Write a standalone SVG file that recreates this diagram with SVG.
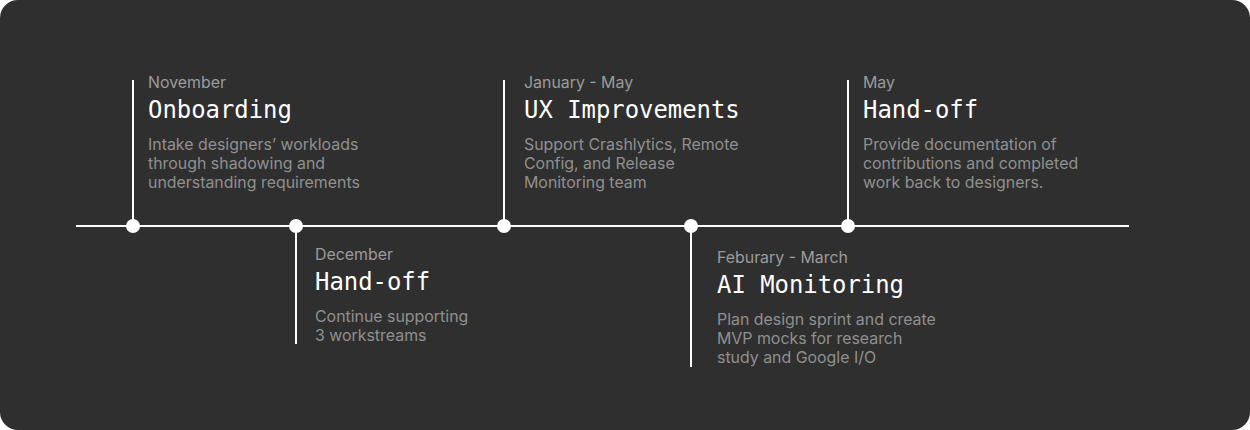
<svg xmlns="http://www.w3.org/2000/svg" width="1250" height="430" viewBox="0 0 1250 430">
<style>
.date{font-family:Inter,"Noto Sans",sans-serif;font-size:15.9px;fill:#9b9b9b}
.title{font-family:"DejaVu Sans Mono","Liberation Mono",monospace;font-size:23.9px;fill:#ffffff}
.body{font-family:Inter,"Noto Sans",sans-serif;font-size:15.9px;fill:#8f8f8f}
.ln{stroke:#ffffff;stroke-width:2;fill:none}
.dot{fill:#ffffff}
</style>
<rect x="0" y="0" width="1250" height="430" fill="#ffffff"/>
<rect x="0" y="0" width="1250" height="430" rx="18" fill="#2f2f2f"/>
<g id="connectors">
<line class="ln" x1="76" y1="226" x2="1129" y2="226"/>
<line class="ln" x1="133" y1="80" x2="133" y2="226"/>
<line class="ln" x1="296" y1="226" x2="296" y2="344"/>
<line class="ln" x1="504" y1="80" x2="504" y2="226"/>
<line class="ln" x1="691" y1="226" x2="691" y2="367"/>
<line class="ln" x1="848" y1="80" x2="848" y2="226"/>
</g>
<g id="node-onboarding">
<circle class="dot" cx="133" cy="226" r="7"/>
<text class="date" x="148" y="88">November</text>
<text class="title" x="148" y="118">Onboarding</text>
<text class="body" x="148" y="150">Intake designers’ workloads</text>
<text class="body" x="148" y="169">through shadowing and</text>
<text class="body" x="148" y="188">understanding requirements</text>
</g>
<g id="node-handoff-dec">
<circle class="dot" cx="296" cy="226" r="7"/>
<text class="date" x="315" y="260">December</text>
<text class="title" x="315" y="290">Hand-off</text>
<text class="body" x="315" y="322">Continue supporting</text>
<text class="body" x="315" y="341">3 workstreams</text>
</g>
<g id="node-ux">
<circle class="dot" cx="504" cy="226" r="7"/>
<text class="date" x="524" y="88">January - May</text>
<text class="title" x="524" y="118">UX Improvements</text>
<text class="body" x="524" y="150">Support Crashlytics, Remote</text>
<text class="body" x="524" y="169">Config, and Release</text>
<text class="body" x="524" y="188">Monitoring team</text>
</g>
<g id="node-ai">
<circle class="dot" cx="691" cy="226" r="7"/>
<text class="date" x="717" y="263">Feburary - March</text>
<text class="title" x="717" y="293">AI Monitoring</text>
<text class="body" x="717" y="325">Plan design sprint and create</text>
<text class="body" x="717" y="344">MVP mocks for research</text>
<text class="body" x="717" y="363">study and Google I/O</text>
</g>
<g id="node-handoff-may">
<circle class="dot" cx="848" cy="226" r="7"/>
<text class="date" x="863" y="88">May</text>
<text class="title" x="863" y="118">Hand-off</text>
<text class="body" x="863" y="150">Provide documentation of</text>
<text class="body" x="863" y="169">contributions and completed</text>
<text class="body" x="863" y="188">work back to designers.</text>
</g>
</svg>
